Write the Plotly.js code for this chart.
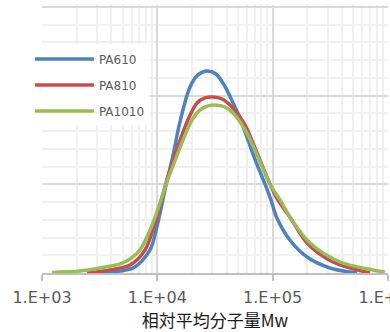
<!DOCTYPE html>
<html>
<head>
<meta charset="utf-8">
<script src="https://cdn.plot.ly/plotly-3.0.1.min.js"></script>
<style>
html,body{margin:0;padding:0;background:#fff;overflow:hidden;}
#chart{width:390px;height:332px;}
</style>
</head>
<body>
<div id="chart"></div>
<script>
// Relative molecular weight Mw (x) and distribution values (y)
const seriesNames = ["PA610", "PA810", "PA1010"];

const mwPA610 = [3000, 4750, 6400, 8640, 10100, 11900, 13700, 15700, 19200, 22500, 27000, 32300, 38000, 45000, 52100, 61100, 71700, 85800, 96700, 109000, 141000, 199000, 314000, 539000];
const valPA610 = [0, 0.011, 0.034, 0.130, 0.282, 0.496, 0.665, 0.851, 1.049, 1.117, 1.139, 1.122, 1.060, 0.965, 0.874, 0.750, 0.626, 0.502, 0.412, 0.310, 0.186, 0.090, 0.028, 0];

const mwPA810 = [2460, 3890, 5800, 7820, 9550, 12100, 14200, 18400, 22100, 25900, 30400, 36400, 45300, 57600, 70300, 94800, 111000, 141000, 199000, 334000, 698000];
const valPA810 = [0, 0.017, 0.045, 0.130, 0.282, 0.524, 0.665, 0.863, 0.959, 0.987, 0.992, 0.981, 0.930, 0.835, 0.705, 0.502, 0.412, 0.316, 0.169, 0.062, 0];

const mwPA1010 = [1220, 2140, 3180, 4750, 5800, 7070, 9170, 12100, 14500, 17400, 20000, 23400, 27500, 31600, 38600, 47200, 61100, 74600, 94800, 116000, 147000, 211000, 384000, 741000, 942000];
const valPA1010 = [0.003, 0.011, 0.028, 0.051, 0.079, 0.130, 0.282, 0.513, 0.648, 0.778, 0.863, 0.919, 0.942, 0.947, 0.936, 0.891, 0.778, 0.654, 0.502, 0.412, 0.299, 0.169, 0.062, 0.017, 0.006];

const xTickVals = [1e3, 1e4, 1e5, 1e6];
const xTickText = ["1.E+03", "1.E+04", "1.E+05", "1.E+06"];
const xTitle = "相対平均分子量Mw";

const colors = ["#4F81BD", "#C0504D", "#9BBB59"];
const xs = [mwPA610, mwPA810, mwPA1010];
const ys = [valPA610, valPA810, valPA1010];

const traces = seriesNames.map((name, i) => ({
  type: "scatter",
  mode: "lines",
  name: name,
  legendgroup: "g" + i,
  x: xs[i],
  y: ys[i],
  line: {color: colors[i], width: 3.5, shape: "spline", smoothing: 0.9},
  hoverinfo: "skip"
}));

const layout = {
  width: 390,
  height: 332,
  margin: {l: 42, r: 2, t: 5, b: 59},
  paper_bgcolor: "#ffffff",
  plot_bgcolor: "#ffffff",
  font: {family: "DejaVu Sans, sans-serif", color: "#595959"},
  showlegend: true,
  legend: {
    x: -0.035, xanchor: "left",
    y: 0.853, yanchor: "top",
    bgcolor: "#ffffff",
    borderwidth: 0,
    font: {size: 12, color: "#595959", family: "DejaVu Sans, sans-serif"},
    itemwidth: 59,
    tracegroupgap: 7,
    traceorder: "grouped"
  },
  xaxis: {
    type: "log",
    range: [3, 6.0005],
    tickmode: "array",
    tickvals: xTickVals,
    ticktext: xTickText,
    tickfont: {size: 16, color: "#595959"},
    ticks: "outside",
    ticklen: 6,
    tickwidth: 2,
    tickcolor: "#bfbfbf",
    ticklabelstandoff: 3,
    ticklabeloverflow: "allow",
    showline: true,
    linecolor: "#bfbfbf",
    linewidth: 2,
    showgrid: true,
    gridcolor: "#d9d9d9",
    gridwidth: 2,
    minor: {dtick: "D1", showgrid: true, gridcolor: "#efefef", gridwidth: 2, ticks: ""},
    zeroline: false,
    title: {text: xTitle, font: {size: 17, color: "#1a1a1a", family: "Noto Sans CJK JP, DejaVu Sans, sans-serif"}, standoff: 8}
  },
  yaxis: {
    range: [0, 1.5113],
    dtick: 0.5,
    tick0: 0,
    showticklabels: false,
    ticks: "",
    showline: false,
    zeroline: false,
    showgrid: true,
    gridcolor: "#d9d9d9",
    gridwidth: 2,
    minor: {dtick: 0.1, showgrid: true, gridcolor: "#efefef", gridwidth: 2}
  }
};

Plotly.newPlot("chart", traces, layout, {displayModeBar: false, staticPlot: true}).then(() => {
  document.querySelectorAll("#chart .legend .legendlines path").forEach(p => {
    p.setAttribute("d", "M5,0h59");
  });
});
</script>
</body>
</html>
